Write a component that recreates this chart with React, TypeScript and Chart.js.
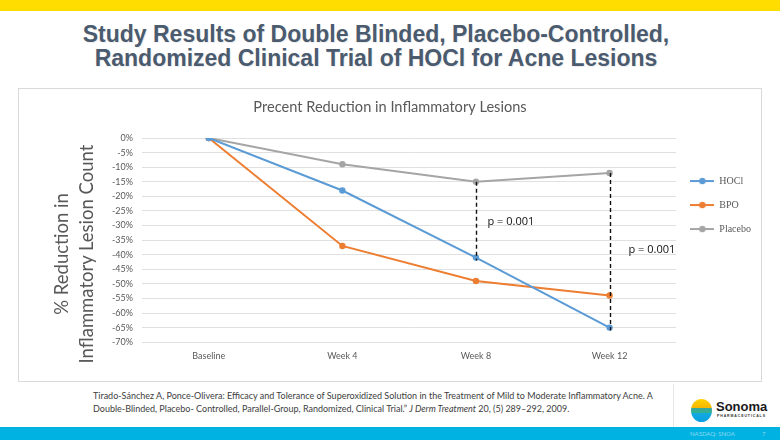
import React, { useEffect, useRef } from 'react';
import { Chart, registerables } from 'chart.js';

Chart.register(...registerables);

const categories = ['Baseline', 'Week 4', 'Week 8', 'Week 12'];
const hoclValues = [0, -18, -41, -65];
const bpoValues = [0, -37, -49, -54];
const placeboValues = [0, -9, -15, -12];
const seriesNames = ['HOCl', 'BPO', 'Placebo'];
const seriesColors = ['#5B9BD5', '#ED7D31', '#A5A5A5'];
const yMin = -70;
const yMax = 0;
const yStep = 5;
const chartTitle = 'Precent Reduction in Inflammatory Lesions';
const yAxisTitle = ['% Reduction in', 'Inflammatory Lesion Count'];
const pValueIndices = [2, 3];
const pValueLabels = ['p = 0.001', 'p = 0.001'];
const pValueLabelLevels = [-28.6, -38.2];
const pValueLabelOffsets = [11, 18];

function makeLegendMarker(color: string): HTMLCanvasElement {
  const c = document.createElement('canvas');
  c.width = 24;
  c.height = 8;
  const g = c.getContext('2d')!;
  g.strokeStyle = color;
  g.lineWidth = 2;
  g.beginPath();
  g.moveTo(0, 4);
  g.lineTo(24, 4);
  g.stroke();
  g.fillStyle = color;
  g.beginPath();
  g.arc(12, 4, 3.2, 0, Math.PI * 2);
  g.fill();
  return c;
}

const pValuePlugin = {
  id: 'pValuePlugin',
  afterDatasetsDraw(chart: any) {
    const { ctx, scales } = chart;
    const x = scales.x;
    const y = scales.y;
    ctx.save();
    pValueIndices.forEach((idx, i) => {
      const px = Math.round(x.getPixelForValue(idx)) + 0.5;
      const yTop = y.getPixelForValue(placeboValues[idx]);
      const yBottom = y.getPixelForValue(hoclValues[idx]);
      ctx.strokeStyle = '#111';
      ctx.lineWidth = 1.4;
      ctx.setLineDash([4, 3]);
      ctx.beginPath();
      ctx.moveTo(px, yTop);
      ctx.lineTo(px, yBottom + 3);
      ctx.stroke();
      ctx.setLineDash([]);
      ctx.fillStyle = '#111';
      ctx.font = '11px "Open Sans"';
      ctx.textAlign = 'left';
      ctx.textBaseline = 'middle';
      ctx.fillText(pValueLabels[i], px + pValueLabelOffsets[i], y.getPixelForValue(pValueLabelLevels[i]));
    });
    ctx.restore();
  },
};

function LesionChart() {
  const ref = useRef<HTMLCanvasElement>(null);
  useEffect(() => {
    if (!ref.current) return;
    const seriesValues = [hoclValues, bpoValues, placeboValues];
    const markers = seriesColors.map(makeLegendMarker);
    const chart = new Chart(ref.current, {
      type: 'line',
      data: {
        labels: categories,
        datasets: seriesNames.map((name, i) => ({
          label: name,
          data: seriesValues[i],
          borderColor: seriesColors[i],
          backgroundColor: seriesColors[i],
          pointBackgroundColor: seriesColors[i],
          pointBorderColor: seriesColors[i],
          borderWidth: 2,
          pointRadius: 3.2,
          pointBorderWidth: 0,
          tension: 0,
        })),
      },
      options: {
        animation: false,
        responsive: true,
        maintainAspectRatio: false,
        layout: { padding: { left: 0, right: 0, top: 0, bottom: 12 } },
        plugins: {
          title: {
            display: true,
            text: chartTitle,
            color: '#595959',
            font: { family: 'Lato', size: 14.6, weight: 'normal', lineHeight: 1.2 },
            padding: { top: 10, bottom: 21.5 },
          },
          legend: {
            position: 'right',
            align: 'start',
            fullSize: false,
            title: {
              display: true,
              text: ' ',
              font: { size: 10, lineHeight: 1 },
              padding: { top: 14, bottom: 0 },
            },
            labels: {
              usePointStyle: true,
              pointStyleWidth: 24,
              padding: 14,
              color: '#595959',
              font: { family: '"Liberation Serif"', size: 10 },
              generateLabels: (ch: any) => {
                const base = Chart.defaults.plugins.legend.labels.generateLabels(ch);
                return base.map((item: any, i: number) => ({
                  ...item,
                  pointStyle: markers[i],
                  fontColor: '#595959',
                }));
              },
            },
          },
          tooltip: { enabled: false },
        },
        scales: {
          x: {
            offset: true,
            grid: { display: false, drawTicks: false },
            border: { display: false },
            ticks: { color: '#595959', font: { family: 'Lato', size: 9 }, padding: 8 },
          },
          y: {
            min: yMin,
            max: yMax,
            grid: { color: '#e0e0e0', lineWidth: 1, drawTicks: false },
            border: { display: false },
            ticks: {
              stepSize: yStep,
              autoSkip: false,
              color: '#595959',
              font: { family: 'Lato', size: 9 },
              padding: 9,
              callback: (v: any) => `${v}%`,
            },
            title: { display: false },
            afterFit: (scale: any) => {
              scale.width = 123;
            },
          },
        },
      },
      plugins: [pValuePlugin],
    });
    return () => chart.destroy();
  }, []);
  return <canvas ref={ref} />;
}

export default function App() {
  return (
    <div
      style={{
        position: 'fixed',
        left: 0,
        top: 0,
        width: 780,
        height: 440,
        overflow: 'hidden',
        background: '#fff',
        fontFamily: 'Lato, sans-serif',
      }}
    >
      <div style={{ position: 'absolute', left: 0, top: 0, width: 780, height: 11, background: '#FFDD00' }} />
      <div
        style={{
          position: 'absolute',
          left: 0,
          top: 22,
          width: 752,
          textAlign: 'center',
          fontFamily: '"Liberation Sans Narrow", "Liberation Sans", Arial, sans-serif',
          fontWeight: 'bold',
          fontSize: 23,
          lineHeight: '24px',
          color: '#4b5b6f',
          textShadow: '1px 1px 1px rgba(0,0,0,0.08)',
          whiteSpace: 'nowrap',
        }}
      >
        Study Results of Double Blinded, Placebo-Controlled,
        <br />
        Randomized Clinical Trial of HOCl for Acne Lesions
      </div>
      <div
        style={{
          position: 'absolute',
          left: 18,
          top: 88,
          width: 742,
          height: 292,
          border: '1px solid #d9d9d9',
        }}
      >
        <div style={{ position: 'relative', width: 742, height: 292 }}>
          <LesionChart />
        </div>
      </div>
      <div
        style={{
          position: 'absolute',
          left: 73.5 - 130,
          top: 254 - 25,
          width: 260,
          height: 50,
          transform: 'rotate(-90deg)',
          transformOrigin: '50% 50%',
          textAlign: 'center',
          fontSize: 18.5,
          lineHeight: '25px',
          color: '#595959',
          whiteSpace: 'nowrap',
        }}
      >
        {yAxisTitle[0]}
        <br />
        {yAxisTitle[1]}
      </div>
      <div
        style={{
          position: 'absolute',
          left: 93,
          top: 389,
          fontSize: 9,
          lineHeight: '13px',
          color: '#404040',
          whiteSpace: 'nowrap',
        }}
      >
        Tirado-Sánchez A, Ponce-Olivera: Efficacy and Tolerance of Superoxidized Solution in the Treatment of Mild to Moderate Inflammatory Acne. A
        <br />
        Double-Blinded, Placebo- Controlled, Parallel-Group, Randomized, Clinical Trial.” <i>J Derm Treatment</i> 20, (5) 289–292, 2009.
      </div>
      <div style={{ position: 'absolute', left: 673, top: 384, width: 1, height: 43, background: '#e6e6e6' }} />
      <div
        style={{
          position: 'absolute',
          left: 691,
          top: 399,
          width: 21,
          height: 23,
          borderRadius: '50%',
          background: 'linear-gradient(#FFD200 0%, #F7B500 40%, #3aa79a 41%, #2fb38f 62%, #12a8e0 63%, #0aa0e0 100%)',
        }}
      />
      <div
        style={{
          position: 'absolute',
          left: 716,
          top: 400,
          fontFamily: '"Liberation Sans", Arial, sans-serif',
          fontWeight: 'bold',
          fontSize: 13,
          lineHeight: '14px',
          color: '#1a1a1a',
        }}
      >
        Sonoma
      </div>
      <div
        style={{
          position: 'absolute',
          left: 717,
          top: 414,
          fontFamily: '"Liberation Sans", Arial, sans-serif',
          fontWeight: 'bold',
          fontSize: 3.5,
          letterSpacing: 0.9,
          lineHeight: '4px',
          color: '#333',
        }}
      >
        PHARMACEUTICALS
      </div>
      <div style={{ position: 'absolute', left: 0, top: 427, width: 780, height: 13, background: '#00B2E2' }} />
      <div
        style={{
          position: 'absolute',
          left: 690,
          top: 429,
          fontSize: 6,
          lineHeight: '9px',
          color: '#8fd8f0',
        }}
      >
        NASDAQ: SNOA
      </div>
      <div style={{ position: 'absolute', left: 762, top: 429, fontSize: 6, lineHeight: '9px', color: '#8fd8f0' }}>7</div>
    </div>
  );
}
